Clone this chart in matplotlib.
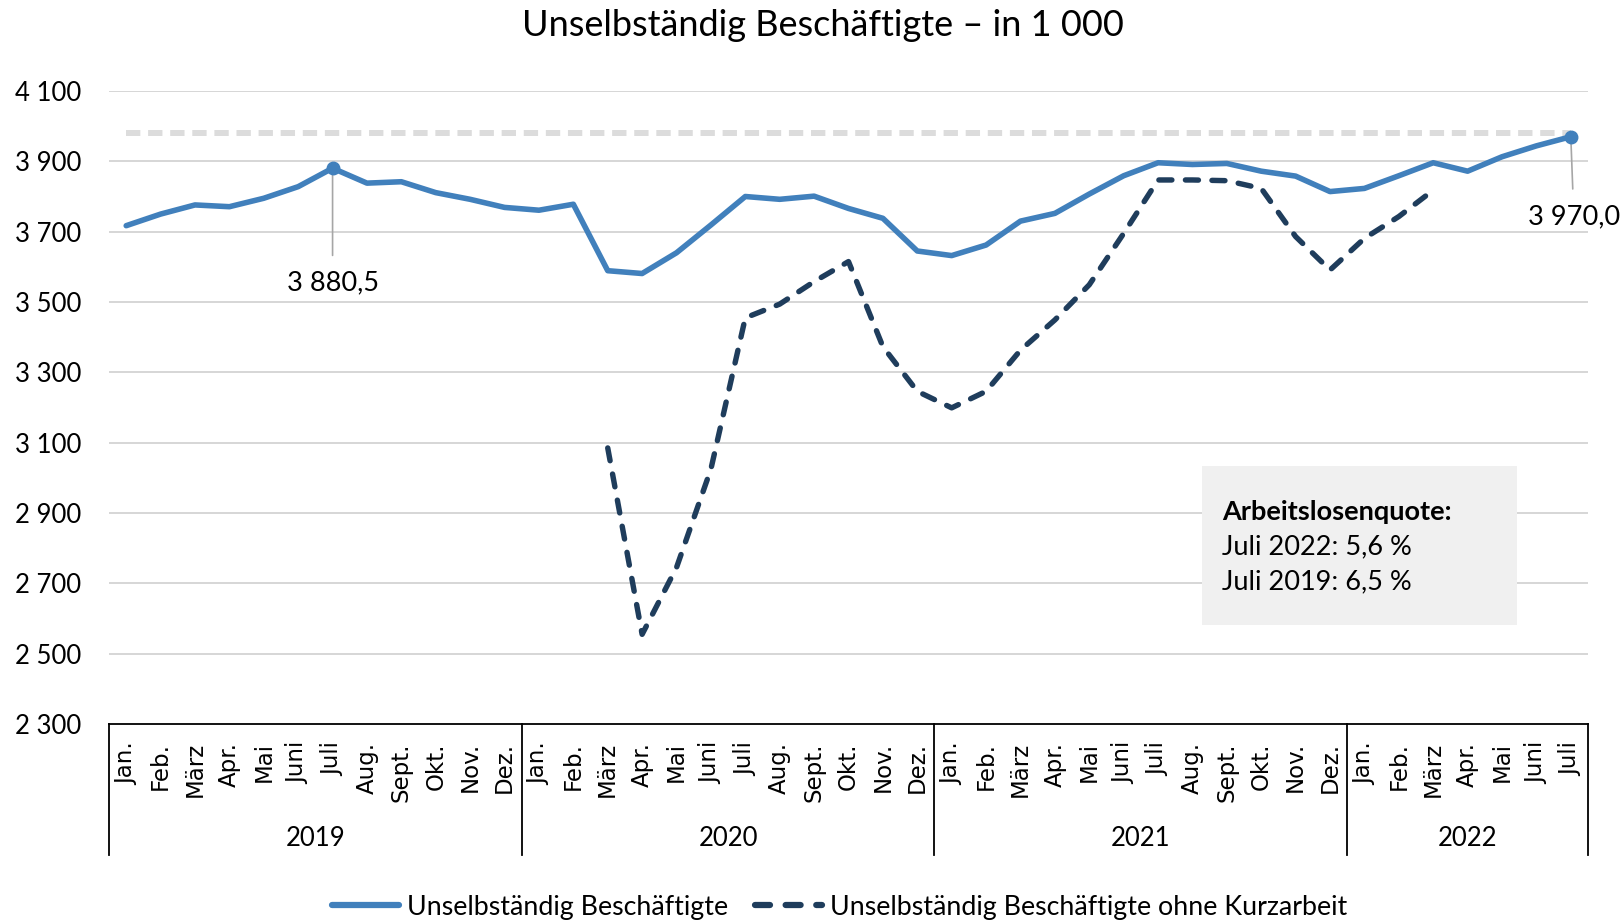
import os
import numpy as np
import matplotlib
matplotlib.use("Agg")
import matplotlib.pyplot as plt
from matplotlib.patches import Rectangle
from matplotlib.font_manager import FontProperties

plt.rcParams['font.family'] = ['Lato', 'DejaVu Sans']

# Daten (in 1 000)
months = ['Jan.', 'Feb.', 'März', 'Apr.', 'Mai', 'Juni', 'Juli',
          'Aug.', 'Sept.', 'Okt.', 'Nov.', 'Dez.']
years = ['2019', '2020', '2021', '2022']
month_labels = months * 3 + months[:7]

beschaeftigte = [3717, 3750, 3776, 3771, 3795, 3828, 3880.5, 3838, 3842, 3811, 3792, 3769,
                 3761, 3778, 3589, 3581, 3640, 3719, 3800, 3792, 3801, 3766, 3738, 3645,
                 3632, 3662, 3730, 3752, 3807, 3859, 3896, 3891, 3894, 3872, 3858, 3814,
                 3823, 3859, 3896, 3872, 3913, 3944, 3970.0]

ohne_kurzarbeit = [np.nan] * 14 + [3085, 2555, 2745, 3025, 3455, 3494, 3558, 3615, 3373, 3246,
                                   3199, 3246, 3363, 3449, 3549, 3695, 3847, 3847, 3845, 3823,
                                   3686, 3591, 3681, 3743, 3818] + [np.nan] * 4

referenz = 3980  # graue Linie
yticks = [2300, 2500, 2700, 2900, 3100, 3300, 3500, 3700, 3900, 4100]

blau = '#4180BC'
navy = '#1F3D5C'

# Monatsschrift: DejaVu direkt aus den matplotlib-Daten
dejavu = FontProperties(fname=os.path.join(matplotlib.get_data_path(), 'fonts', 'ttf', 'DejaVuSans.ttf'),
                        size=16.5)

W, H = 1624, 924
fig = plt.figure(figsize=(W / 100, H / 100), dpi=100)
ax = fig.add_axes([109 / W, (H - 724) / H, (1588 - 109) / W, (724 - 91) / H])

x = np.arange(len(beschaeftigte))

ax.set_xlim(-0.5, len(x) - 0.5)
ax.set_ylim(2300, 4100)
for t in yticks[1:]:
    ax.axhline(t, color='#d0d0d0', lw=1.2, zorder=0)

ax.plot(x, np.full(len(x), referenz), color='#dcdcdc', lw=4.3,
        dashes=(2.4, 1.3), dash_capstyle='butt', zorder=1)
ax.plot(x, beschaeftigte, color=blau, lw=4, solid_joinstyle='round', solid_capstyle='round',
        label='Unselbständig Beschäftigte', zorder=3)
ax.plot(x, ohne_kurzarbeit, color=navy, lw=3.9, dashes=(2.4, 2.5),
        dash_capstyle='round', label='Unselbständig Beschäftigte ohne Kurzarbeit', zorder=2)
ax.plot([6, 42], [beschaeftigte[6], beschaeftigte[42]], 'o', color=blau, ms=9, zorder=4)

# Datenbeschriftungen
for i, off in [(6, -115), (42, -80)]:
    lab = f"{beschaeftigte[i]:,.1f}".replace(',', ' ').replace('.', ',')
    ax.annotate(lab, (i, beschaeftigte[i]), xytext=(0 if i == 6 else 3, off),
                textcoords='offset pixels', ha='center', va='center', fontsize=19.5,
                arrowprops=dict(arrowstyle='-', color='#a6a6a6', lw=1.2, shrinkA=9, shrinkB=0),
                annotation_clip=False)

# Achsen
for s in ['left', 'right', 'top']:
    ax.spines[s].set_visible(False)
ax.spines['bottom'].set_color('black')
ax.spines['bottom'].set_linewidth(1.3)

ax.set_yticks(yticks)
ax.set_yticklabels([f"{v:,}".replace(',', ' ') for v in yticks], fontsize=18.5)
ax.tick_params(axis='y', length=0, pad=20)

# Monats- und Jahresbeschriftung von Hand
ax.set_xticks([])
trans = ax.get_xaxis_transform()
for i, m in enumerate(month_labels):
    ax.text(i, -(742 - 724) / 633, m, transform=trans, rotation=90, ha='center', va='top',
            fontproperties=dejavu)

grenzen = [-0.5, 11.5, 23.5, 35.5, len(x) - 0.5]
for g in grenzen:
    ax.plot([g, g], [0, -(855 - 724) / 633], color='black', lw=1.3, transform=trans, clip_on=False)
for j, jahr in enumerate(years):
    mitte = (grenzen[j] + grenzen[j + 1]) / 2
    ax.text(mitte, -(839 - 724) / 633, jahr, transform=trans, ha='center', va='center', fontsize=18.5)

# Titel
fig.text(823 / W, 1 - 26 / H, 'Unselbständig Beschäftigte – in 1 000', ha='center', va='center', fontsize=26)

# Infobox
fig.patches.append(Rectangle((1202 / W, 1 - 625 / H), (1517 - 1202) / W, (625 - 466) / H,
                             transform=fig.transFigure, facecolor='#f0f0f0', edgecolor='none', zorder=0))
fig.text(1222 / W, 1 - 512 / H, 'Arbeitslosenquote:', fontsize=19.5, fontweight='bold', va='center')
fig.text(1222 / W, 1 - 547 / H, 'Juli 2022: 5,6 %', fontsize=19.5, va='center')
fig.text(1222 / W, 1 - 582 / H, 'Juli 2019: 6,5 %', fontsize=19.5, va='center')

leg = fig.legend(loc='center', bbox_to_anchor=(840 / W, 1 - 907 / H), ncol=2, frameon=False,
                 fontsize=19.3, handlelength=2.5, columnspacing=1.0, handletextpad=0.3)
for h in leg.get_lines():
    h.set_linewidth(4.5)

fig.savefig('out.png', dpi=100)
